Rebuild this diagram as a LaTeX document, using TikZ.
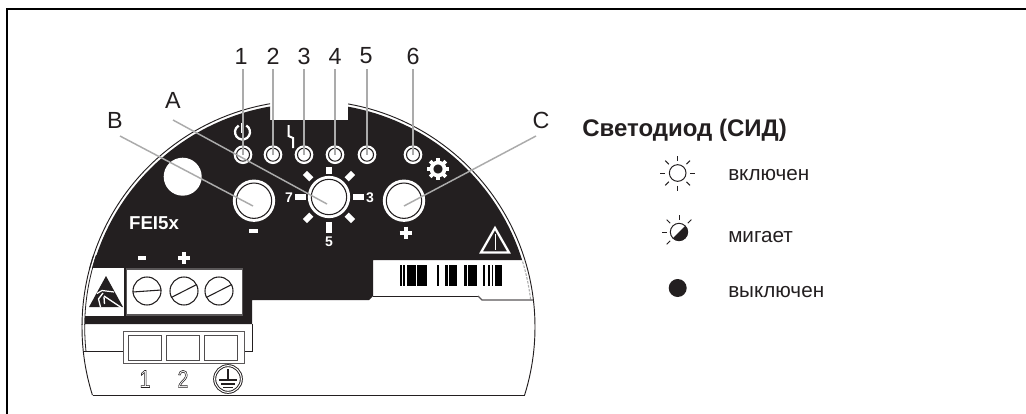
\documentclass[tikz,border=0pt]{standalone}
\usepackage{fontspec}
\setmainfont{Liberation Sans}
\definecolor{ink}{HTML}{231F20}
\definecolor{leadc}{HTML}{ABABAB}
\tikzset{
  px/.style={x=0.75pt,y=-0.75pt},
  leader/.style={draw=leadc,line width=1.1pt},
  thin ink/.style={draw=ink,line width=0.7pt},
  lab/.style={font=\fontsize{17.5}{18}\selectfont,text=ink,inner sep=0pt},
  whitebold/.style={font=\fontsize{11.5}{12}\selectfont\bfseries,text=white,inner sep=0pt},
  ledn/.style={circle,inner sep=0pt,minimum size=9.75pt,draw=ink,line width=0.8pt,fill=white,preaction={draw=white,line width=4.2pt}},
  btnn/.style={circle,inner sep=0pt,minimum size=26.5pt,draw=ink,line width=0.8pt,fill=white,preaction={draw=white,line width=5.2pt}},
  screw/.style={circle,inner sep=0pt,minimum size=21pt,draw=ink,line width=0.8pt,fill=white},
  legendt/.style={font=\fontsize{15.5}{17}\selectfont,text=ink,inner sep=0pt,anchor=west},
  ray/.style={draw=white,line width=4.4pt},
  sunray/.style={draw=ink,line width=0.75pt},
  termnum/.style={font=\fontsize{18.5}{19}\selectfont,text=ink,inner sep=0pt,xscale=0.8},
}
\begin{document}
\begin{tikzpicture}[px]
\useasboundingbox (0,0) rectangle (1026,414);
\fill[white] (0,0) rectangle (1026,414);
% frame
\draw[black,line width=1.5pt] (7,414) -- (7,9) -- (1026,9);
\def\CX{308.5}\def\CY{327}
% black body
\begin{scope}
\clip (\CX,\CY) circle (223.8);
\fill[ink] (60,90) -- (270,90) -- (270,120) -- (348,120) -- (348,90) -- (560,90) -- (560,260) -- (373,260) -- (373,296) -- (369,300) -- (252,300) -- (252,324) -- (60,324) -- cycle;
\end{scope}
% outer contour
\begin{scope}
\clip (60,90) -- (270,90) -- (270,125) -- (348,125) -- (348,90) -- (560,90) -- (560,395) -- (60,395) -- cycle;
\draw[thin ink] (\CX,\CY) circle (226.5);
\end{scope}
\draw[thin ink] (92.5,395) -- (524.5,395);
% inner contours
\begin{scope}
\clip (60,255) rectangle (200,351.5);
\draw[ink,line width=0.6pt] (\CX,\CY) circle (223.8);
\end{scope}
\begin{scope}
\clip (480,260) rectangle (560,300);
\draw[leadc,line width=0.8pt,dash pattern=on 2pt off 1pt] (\CX,\CY) circle (223.8);
\end{scope}
% lower step lines
\draw[thin ink] (83,351.5) -- (124,351.5);
\draw[thin ink] (252,324) -- (252,351.5) -- (244,351.5);
\draw[thin ink] (373,296) -- (478,296);
\draw[ink!75,line width=0.8pt] (478,296) -- (482,300) -- (533,300);
% barcode
\foreach \a/\b in {400/401.7,403/405,407/415.7,417.3/427.3,436.7/439,445/447.7,449.3/457.3,464.3/466.7,468.3/476.7,483.3/485,488.3/490,491.7/493.3,495/502.3}
  \fill[black] (\a,265) rectangle (\b,286);
% ESD square
\fill[white] (80,268) rectangle (124,316);
\begin{scope}
\clip (60,255) rectangle (124,324);
\fill[white] (60,255) rectangle (84.7,324);
\draw[ink,line width=0.6pt] (\CX,\CY) circle (223.8);
\draw[thin ink] (\CX,\CY) circle (226.5);
\end{scope}
% ESD symbol
\fill[ink] (106,276) -- (123,307) -- (89,307) -- cycle;
\draw[white,line width=0.9pt] (97,293.5) -- (102,290.5) -- (114,292);
\draw[white,line width=1pt] (100.5,307) -- (98.5,299) -- (103,293);
\draw[white,line width=1pt] (104.5,304) -- (104,297);
\draw[white,line width=1pt] (104,296) -- (122,308);
% terminal block
\node[rectangle,draw=ink!75,line width=1pt,fill=white,inner sep=0pt,minimum width=87pt,minimum height=34.5pt] (tb) at (184.5,292) {};
\draw[ink,line width=0.7pt] (tb.south west) -- (tb.north west);
\foreach \n/\x/\ang in {s1/147/4,s2/184/27,s3/219/27}{
  \node[screw] (\n) at (\x,291) {};
  \draw[ink,line width=0.8pt] (\n.\ang) -- (\n.180+\ang);
}
\fill[white] (138,256) rectangle (146,259.5);
\draw[white,line width=2.8pt] (178,258) -- (190,258) (184,252) -- (184,264);
% connector box
\node[rectangle,draw=ink!75,line width=0.7pt,fill=white,inner sep=0pt,minimum width=90.5pt,minimum height=24pt] (cb) at (184,347) {};
\foreach \n/\x in {c1/145,c2/183,c3/221}
  \node[rectangle,draw=ink!80,line width=1.1pt,fill=white,inner sep=0pt,minimum width=25pt,minimum height=19pt] (\n) at (\x,348) {};
% terminal numbers
\node[termnum] (n1) at (145,379) {\special{pdf:code 1 Tr 0.45 w}1\special{pdf:code 0 Tr}};
\node[termnum] (n2) at (183,379) {\special{pdf:code 1 Tr 0.45 w}2\special{pdf:code 0 Tr}};
\node[circle,draw=ink,line width=0.7pt,inner sep=0pt,minimum size=20pt,double=white,double distance=0.8pt] (pe) at (228,379) {};
\draw[ink,line width=0.8pt] (228,369) -- (228,380) (219,380) -- (237,380);
\draw[ink,line width=0.8pt] (221,384) -- (235,384) (223,387.5) -- (233,387.5);
% hole
\node[circle,fill=white,inner sep=0pt,minimum size=28.5pt] (hole) at (182.7,176.7) {};
% text on board
\node[whitebold,font=\fontsize{14}{15}\selectfont\bfseries] (fei) at (154,223) {FEI5x};
\node[whitebold,font=\fontsize{10.5}{12}\selectfont\bfseries] (d7) at (289,198) {7};
\node[whitebold,font=\fontsize{10.5}{12}\selectfont\bfseries] (d3) at (370,198) {3};
\node[whitebold,font=\fontsize{10.5}{12}\selectfont\bfseries] (d5) at (329,242) {5};
% rays
\foreach \ang/\ra/\rb in {0/24/35,45/25/34,90/25/36,135/25/34,180/23/34,225/25/34,270/23/30,315/25/34}
  \draw[ray] (329,197) ++(\ang:\ra) -- ++(\ang:\rb-\ra);
% buttons
\node[btnn] (bb) at (254,200.7) {};
\node[btnn] (ba) at (329,197) {};
\node[btnn] (bc) at (404,200.7) {};
\fill[white] (248.5,229) rectangle (257.5,232.5);
\draw[white,line width=3pt] (399.5,232.7) -- (412,232.7) (405.7,226.5) -- (405.7,239);
% LEDs
\foreach \n/\x in {l1/243,l2/273,l3/304,l4/335,l5/367,l6/413}
  \node[ledn] (\n) at (\x,154.7) {};
% power symbol
\draw[white,line width=1.7pt] (242.5,132) ++(-60:7.5) arc[start angle=-60,end angle=240,radius=7.5];
\draw[white,line width=1.7pt] (242.5,123) -- (242.5,133);
% lightning
\draw[white,line width=1.5pt] (288.5,125) -- (288.5,136) -- (293,138) -- (293,148);
% gear
\draw[white,line width=2.8pt] (438,169) circle (6.5);
\foreach \ang in {0,45,...,315}
  \draw[white,line width=2.8pt] (438,169) ++(\ang:7) -- ++(\ang:4);
% warning triangle
\coordinate (wa) at (495,228);
\coordinate (wb) at (481,252.5);
\coordinate (wc) at (509,252.5);
\draw[white,line width=1.7pt,line join=miter] (wa) -- (wb) -- (wc) -- cycle;
\draw[white,line width=0.7pt] (495,234) -- (495,250);
% leaders
\foreach \n/\x/\t in {t1/241/1,t2/273/2,t3/304/3,t4/335/4,t5/366/5,t6/413/6}
  \node[lab] (\n) at (\x,56) {\t};
\coordinate (s1) at (243,69);\coordinate (s2) at (273,69);\coordinate (s3) at (304,69);
\coordinate (s4) at (335,69);\coordinate (s5) at (367,69);\coordinate (s6) at (413,69);
\foreach \a/\b in {s1/l1,s2/l2,s3/l3,s4/l4,s5/l5,s6/l6}
  \draw[leader] (\a) -- (\b.center);
\node[lab] (la) at (173,100) {A};
\node[lab] (lb) at (115,120) {B};
\node[lab] (lc) at (541,120) {C};
\coordinate (sa) at (173,120);\coordinate (sb) at (120,136);\coordinate (sc) at (536,136);
\coordinate (ea) at (327,204);\coordinate (eb) at (253,206);\coordinate (ec) at (404,206);
\draw[leader] (sa) -- (ea);
\draw[leader] (sb) -- (eb);
\draw[leader] (sc) -- (ec);
% legend
\node[legendt,font=\fontsize{18}{20}\selectfont\bfseries] (title) at (582,130) {Светодиод (СИД)};
\node[legendt] (on) at (728,175) {включен};
\node[legendt] (bl) at (728,237) {мигает};
\node[legendt] (of) at (728,292) {выключен};
\node[circle,draw=ink,line width=0.75pt,inner sep=0pt,minimum size=12.5pt] (son) at (677.7,173) {};
\foreach \ang in {0,45,...,315}
  \draw[sunray] (son.center) ++(\ang:12.5) -- ++(\ang:5);
\node[circle,draw=ink,line width=0.75pt,inner sep=0pt,minimum size=13pt] (sbl) at (679,232) {};
\fill[ink] (sbl.center) ++(-45:8.7) arc[start angle=-45,end angle=135,radius=8.7] -- cycle;
\foreach \ang in {-135,135,-90,-45,180}
  \draw[sunray] (sbl.center) ++(\ang:12.5) -- ++(\ang:5);
\node[circle,fill=ink,inner sep=0pt,minimum size=13.5pt] (sof) at (677.7,288) {};
\end{tikzpicture}
\end{document}
